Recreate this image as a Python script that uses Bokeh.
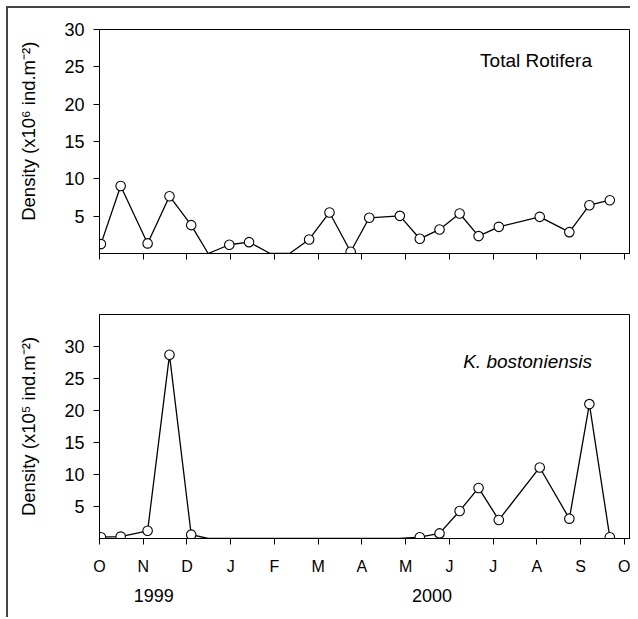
import calendar
import datetime as dt

from bokeh.plotting import figure
from bokeh.models import Range1d, FixedTicker, Label, ColumnDataSource, LinearAxis
from bokeh.layouts import column
from bokeh.embed import file_html
from bokeh.resources import INLINE

# ---- data -------------------------------------------------------------
sample_dates = [
    "1999-10-02", "1999-10-16", "1999-11-04", "1999-11-19", "1999-12-04",
    "1999-12-16", "1999-12-31", "2000-01-14", "2000-01-29", "2000-02-11",
    "2000-02-24", "2000-03-09", "2000-03-24", "2000-04-06", "2000-04-27",
    "2000-05-11", "2000-05-25", "2000-06-08", "2000-06-21", "2000-07-05",
    "2000-08-03", "2000-08-24", "2000-09-07", "2000-09-21",
]
# Total Rotifera, x10^6 ind.m-2
total_rotifera = [
    1.26, 9.05, 1.35, 7.67, 3.80,
    0.0, 1.17, 1.52, 0.0, 0.0,
    1.88, 5.50, 0.23, 4.78, 5.04,
    1.97, 3.22, 5.36, 2.33, 3.57,
    4.91, 2.86, 6.47, 7.14,
]
# K. bostoniensis, x10^5 ind.m-2
k_bostoniensis = [
    0.2, 0.3, 1.2, 28.7, 0.6,
    0.0, 0.0, 0.0, 0.0, 0.0,
    0.0, 0.0, 0.0, 0.0, 0.0,
    0.2, 0.8, 4.3, 7.9, 2.9,
    11.1, 3.1, 21.0, 0.2,
]
month_labels = ["O", "N", "D", "J", "F", "M", "A", "M", "J", "J", "A", "S", "O"]
year_labels = ["1999", "2000"]
y_ticks = [5, 10, 15, 20, 25, 30]

FONT = "Liberation Sans"


def month_pos(s):
    d = dt.date.fromisoformat(s)
    idx = (d.year - 1999) * 12 + d.month - 10
    ndays = calendar.monthrange(d.year, d.month)[1]
    return idx + (d.day - 1) / ndays


xs = [month_pos(s) for s in sample_dates]


def make_panel(values, ylabel, title, title_style, title_y, y_end,
               height, b_top, b_bottom, show_labels):
    p = figure(width=622, height=height, output_backend="svg",
               toolbar_location=None,
               x_range=Range1d(0, 12.14), y_range=Range1d(0, y_end),
               min_border_left=91, min_border_right=0,
               min_border_top=b_top, min_border_bottom=b_bottom)
    p.grid.visible = False
    p.outline_line_color = "black"
    p.outline_line_width = 1
    p.background_fill_color = "white"
    p.border_fill_color = "white"

    src_line = ColumnDataSource(dict(x=xs, y=values))
    mx = [x for x, v in zip(xs, values) if v > 0]
    my = [v for v in values if v > 0]
    src_pts = ColumnDataSource(dict(x=mx, y=my))
    p.line("x", "y", source=src_line, line_color="black", line_width=1.3)
    p.scatter("x", "y", source=src_pts, marker="circle", size=9.5,
              fill_color="white", line_color="black", line_width=1.1)

    xa = p.xaxis[0]
    xa.ticker = FixedTicker(ticks=list(range(13)))
    xa.major_tick_out = 6
    xa.major_tick_in = 0
    xa.minor_tick_out = 0
    xa.minor_tick_in = 0
    xa.axis_line_color = "black"
    xa.major_tick_line_color = "black"
    if show_labels:
        xa.major_label_overrides = {i: m for i, m in enumerate(month_labels)}
        xa.major_label_text_font = FONT
        xa.major_label_text_font_size = "16px"
        xa.major_label_text_color = "black"
        xa.major_label_standoff = 13
    else:
        xa.major_label_overrides = {i: "" for i in range(13)}
        xa.major_label_text_font_size = "1px"

    ya = p.yaxis[0]
    ya.ticker = FixedTicker(ticks=y_ticks)
    ya.major_tick_out = 6
    ya.major_tick_in = 0
    ya.minor_tick_out = 0
    ya.minor_tick_in = 0
    ya.axis_line_color = "black"
    ya.major_tick_line_color = "black"
    ya.major_label_text_font = FONT
    ya.major_label_text_font_size = "18px"
    ya.major_label_text_color = "black"
    ya.major_label_standoff = 9
    ya.axis_label = ylabel
    ya.axis_label_text_font = FONT
    ya.axis_label_text_font_size = "18.5px"
    ya.axis_label_text_font_style = "normal"
    ya.axis_label_text_color = "black"
    ya.axis_label_standoff = 22

    p.add_layout(Label(x=11.26, y=title_y, text=title, text_align="right",
                       text_baseline="alphabetic", text_font=FONT,
                       text_font_size="19px", text_font_style=title_style,
                       text_color="black"))
    return p


p1 = make_panel(total_rotifera,
                "\u00a0\u00a0\u00a0\u00a0Density (x10\u2076 ind.m\u207b\u00b2)",
                "Total Rotifera", "normal", 25.8, 30,
                282, 21, 37, False)
p2 = make_panel(k_bostoniensis, "Density (x10\u2075 ind.m\u207b\u00b2)",
                "K. bostoniensis", "italic", 27.6, 35,
                327, 24, 79, True)

# second row of x labels: years
year_axis = LinearAxis(ticker=FixedTicker(ticks=[1.24, 7.6]),
                       major_label_overrides={1.24: year_labels[0], 7.6: year_labels[1]},
                       axis_line_color=None, major_tick_line_color=None,
                       minor_tick_line_color=None,
                       major_tick_out=0, major_tick_in=0,
                       minor_tick_out=0, minor_tick_in=0,
                       major_label_standoff=11,
                       major_label_text_font=FONT,
                       major_label_text_font_size="18px",
                       major_label_text_color="black")
p2.add_layout(year_axis, "below")

layout = column(p1, p2, spacing=0,
                styles={"border-left": "2px solid #444",
                        "border-top": "2px solid #444",
                        "margin-left": "6px", "margin-top": "6px"})

open("out.html", "w").write(file_html(layout, INLINE))
